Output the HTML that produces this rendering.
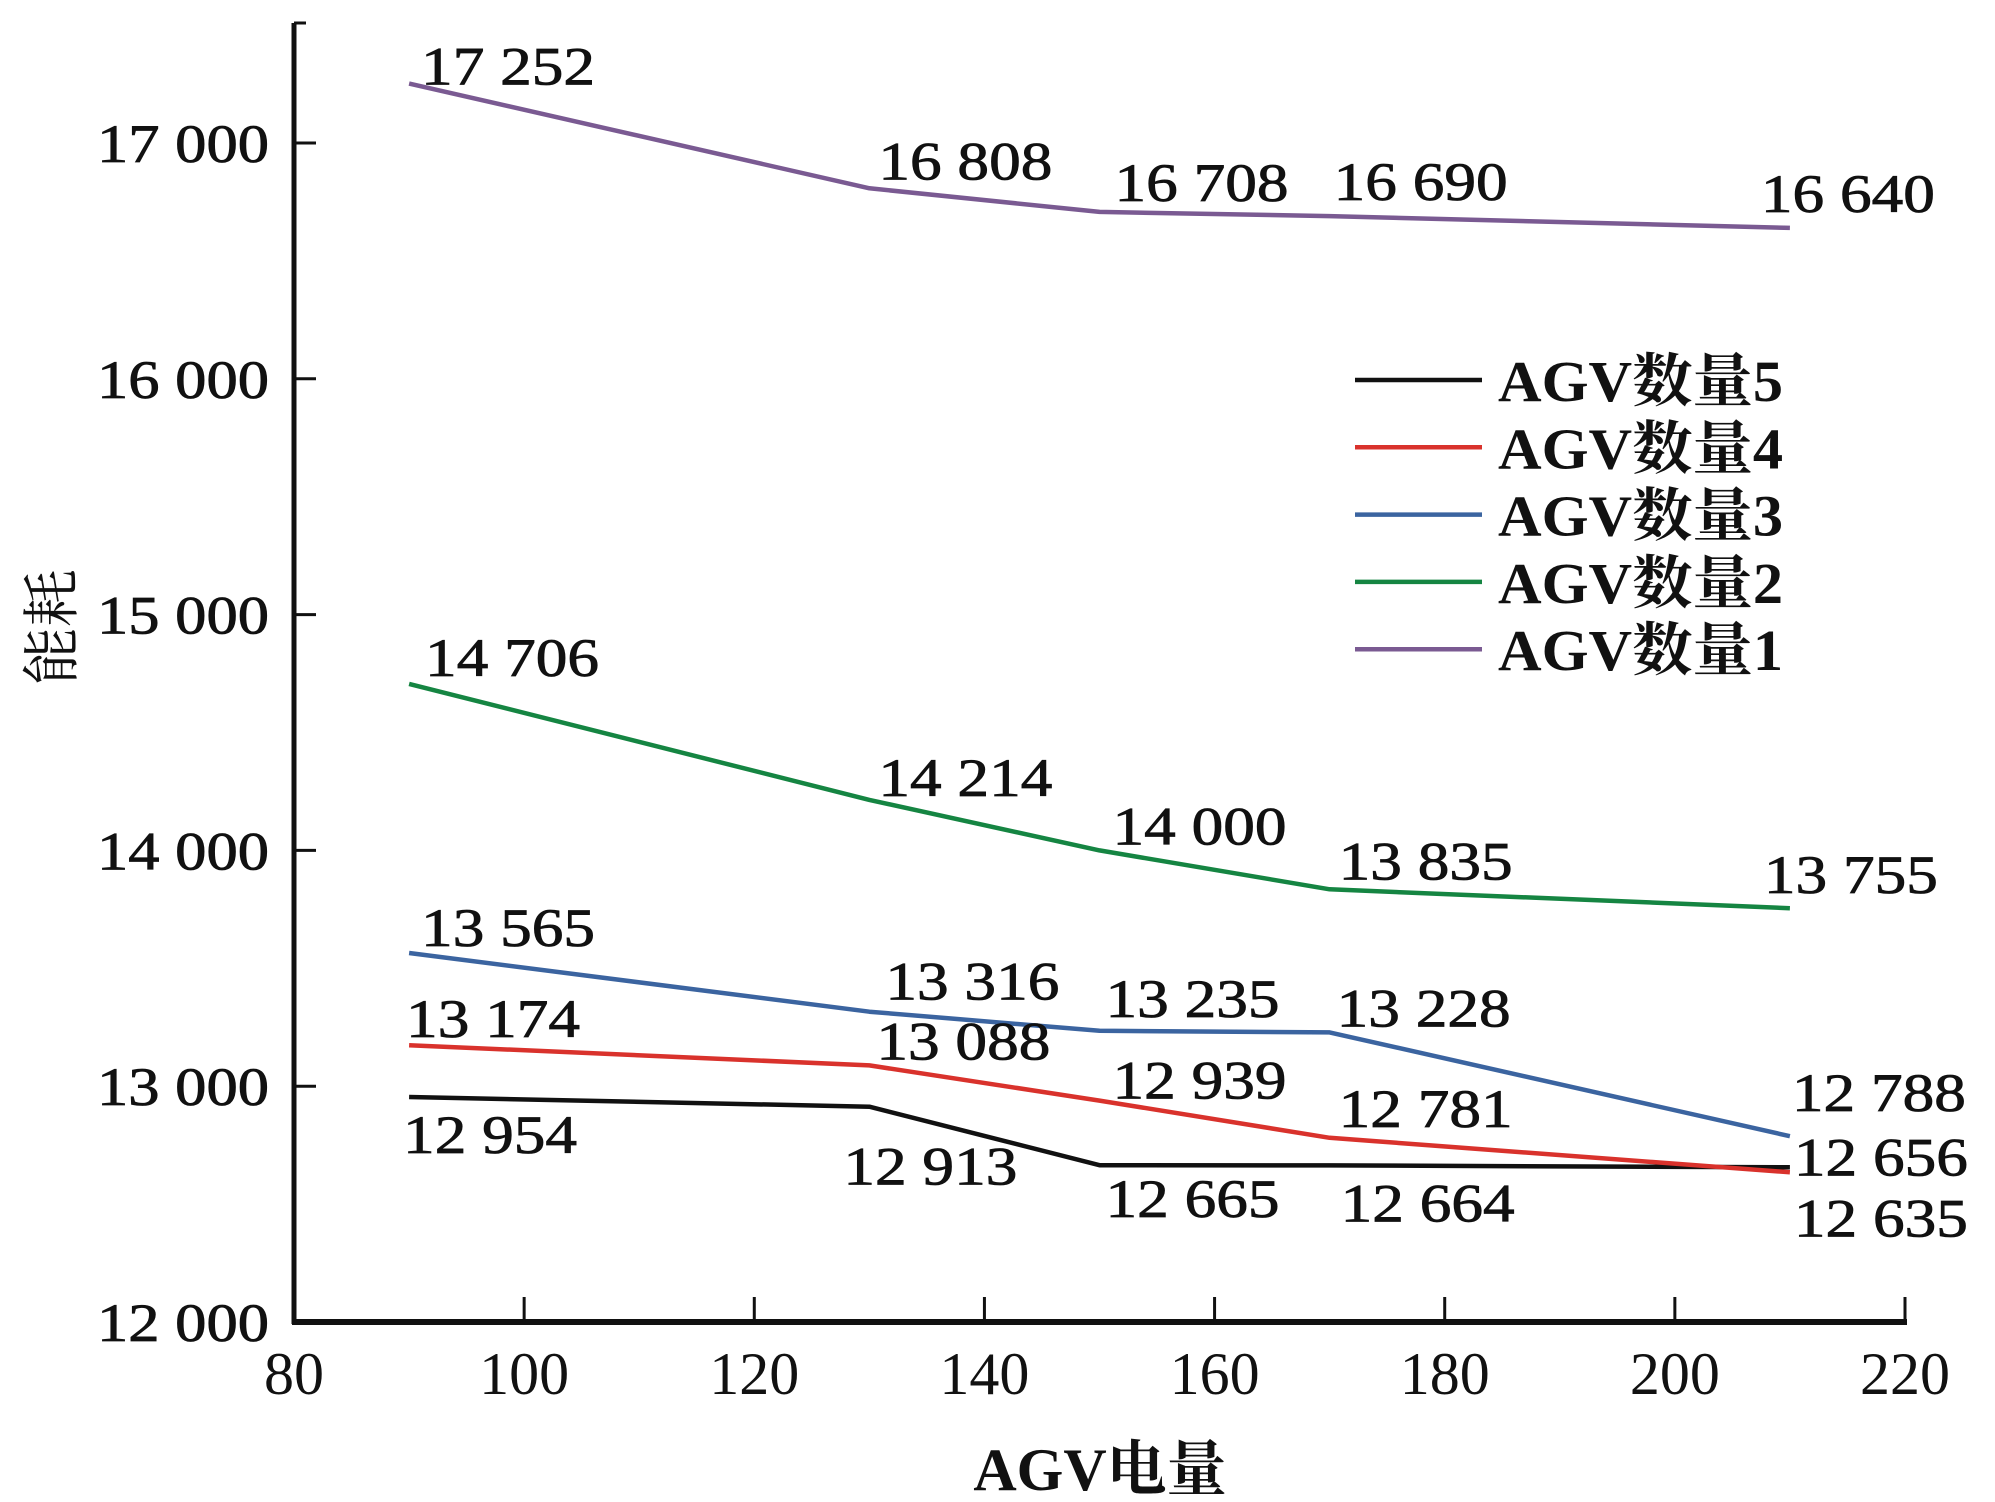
<!DOCTYPE html>
<html><head><meta charset="utf-8"><style>
html,body{margin:0;padding:0;background:#fff;}
svg{display:block;}
text{font-family:"Liberation Serif","Noto Serif CJK SC",serif;fill:#111;}
</style></head><body>
<svg id="chart" width="1995" height="1502" viewBox="0 0 1995 1502" xmlns="http://www.w3.org/2000/svg">
<g id="axes"></g>
<g id="series"></g>
<g id="labels"></g>
<g id="legend"></g>
</svg>
<script>
const xCats = [90, 130, 150, 170, 210];
const xTicks = [80, 100, 120, 140, 160, 180, 200, 220];
const yTicks = [12000, 13000, 14000, 15000, 16000, 17000];
const seriesNames = ["AGV数量5", "AGV数量4", "AGV数量3", "AGV数量2", "AGV数量1"];
const seriesColors = ["#111111", "#d9322c", "#3b64a0", "#158542", "#7a5a92"];
const s5 = [12954, 12913, 12665, 12664, 12656];
const s4 = [13174, 13088, 12939, 12781, 12635];
const s3 = [13565, 13316, 13235, 13228, 12788];
const s2 = [14706, 14214, 14000, 13835, 13755];
const s1 = [17252, 16808, 16708, 16690, 16640];
const seriesValues = [s5, s4, s3, s2, s1];
const labelDx = [[-6,-26,6,11,4],[-3,7,13,9,4],[12,16,6,7,2],[16,9,13,9,-26],[12,9,15,4,-29]];
const labelDy = [[56,78,52,56,8],[-8,-6,-2,-11,64],[-7,-12,-14,-6,-25],[-8,-4,-6,-10,-15],[1,-9,-11,-16,-16]];

const NS = "http://www.w3.org/2000/svg";
const X0 = 294, X1 = 1905, Y0 = 1322, Y1 = 143;
function xs(v){ return X0 + (v - 80) / 140 * (X1 - X0); }
function ys(v){ return Y0 - (v - 12000) / 5000 * (Y0 - Y1); }
function mk(tag, attrs, parent){ const e = document.createElementNS(NS, tag); for (const k in attrs) e.setAttribute(k, attrs[k]); parent.appendChild(e); return e; }
function fmt(v){ const s = String(v); return s.length > 3 ? s.slice(0, s.length-3) + " " + s.slice(-3) : s; }

const axes = document.getElementById("axes");
let el = mk("line", {x1:X0, y1:23, x2:X0, y2:Y0+2, stroke:"#111", "stroke-width":5}, axes);


el = mk("line", {x1:X0, y1:23, x2:X0+12, y2:23, stroke:"#111", "stroke-width":3}, axes);


el = mk("line", {x1:X0-2, y1:Y0, x2:X1+2, y2:Y0, stroke:"#111", "stroke-width":6}, axes);


xTicks.forEach(function(t){
  const x = xs(t);
  let tk = mk("line", {x1:x, y1:Y0, x2:x, y2:Y0-25, stroke:"#111", "stroke-width":3}, axes);
  
  
  let tl = mk("text", {x:x, y:Y0+72, "text-anchor":"middle", "font-size":60}, axes);
  tl.textContent = String(t);
  
  
});
yTicks.forEach(function(t){
  const y = ys(t);
  if (t > 12000) {
    let tk = mk("line", {x1:X0, y1:y, x2:X0+22, y2:y, stroke:"#111", "stroke-width":3}, axes);
    
    
  }
  let tl = mk("text", {x:97, y:y+19, "font-size":54, "stroke":"#111", "stroke-width":0.8, textLength:172, lengthAdjust:"spacingAndGlyphs"}, axes);
  tl.textContent = fmt(t);
  
  
});
el = mk("text", {x:1100, y:1490, "text-anchor":"middle", "font-size":60, "font-weight":"bold"}, axes);
el.textContent = "AGV电量";


el = mk("text", {x:0, y:0, "text-anchor":"middle", "font-size":58, transform:"translate(72,627) rotate(-90)"}, axes);
el.textContent = "能耗";



const sg = document.getElementById("series");
const lg = document.getElementById("labels");
seriesValues.forEach(function(vals, si){
  const pts = vals.map(function(v, i){ return xs(xCats[i]).toFixed(1) + "," + ys(v).toFixed(1); }).join(" ");
  let pl = mk("polyline", {points:pts, fill:"none", stroke:seriesColors[si], "stroke-width":4.5, "stroke-linejoin":"round"}, sg);
  
  
  vals.forEach(function(v, i){
    let t = mk("text", {x:xs(xCats[i]) + labelDx[si][i], y:ys(v) + labelDy[si][i], "font-size":54, "stroke":"#111", "stroke-width":0.8, textLength:174, lengthAdjust:"spacingAndGlyphs"}, lg);
    t.textContent = fmt(v);
    
    
  });
});

const leg = document.getElementById("legend");
seriesNames.forEach(function(n, i){
  const y = 380 + i * 67.3;
  let ln = mk("line", {x1:1355, y1:y, x2:1482, y2:y, stroke:seriesColors[i], "stroke-width":4.5}, leg);
  
  
  let t = mk("text", {x:1498, y:y + 21, "font-size":58, "font-weight":"bold", textLength:285, lengthAdjust:"spacingAndGlyphs"}, leg);
  t.textContent = n;
  
  
});
</script>
</body></html>
